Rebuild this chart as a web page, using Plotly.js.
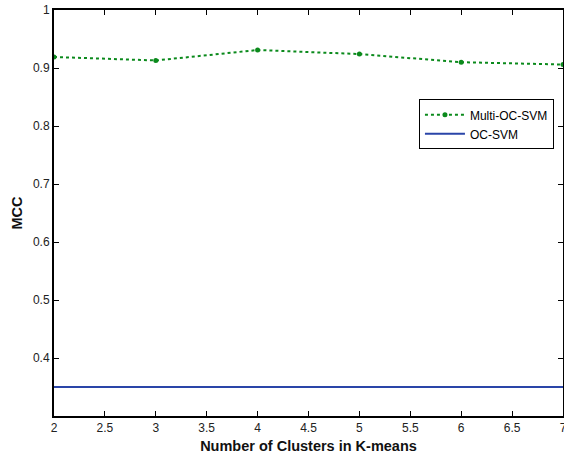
<!DOCTYPE html>
<html>
<head>
<meta charset="utf-8">
<script src="https://cdn.plot.ly/plotly-3.0.1.min.js"></script>
<style>html,body{margin:0;padding:0;background:#fff;}#chart{width:564px;height:455px;}</style>
</head>
<body>
<div id="chart"></div>
<script>
const clusters = [2, 3, 4, 5, 6, 7];
const multiOcSvm = [0.919, 0.913, 0.931, 0.924, 0.910, 0.906];
const ocSvmX = [2, 7];
const ocSvm = [0.35, 0.35];
const xTickVals = [2, 2.5, 3, 3.5, 4, 4.5, 5, 5.5, 6, 6.5, 7];
const xTickText = ['2', '2.5', '3', '3.5', '4', '4.5', '5', '5.5', '6', '6.5', '7'];
const yTickVals = [0.4, 0.5, 0.6, 0.7, 0.8, 0.9, 1.0];
const yTickText = ['0.4', '0.5', '0.6', '0.7', '0.8', '0.9', '1'];

const traces = [
  {x: clusters, y: multiOcSvm, name: 'Multi-OC-SVM', mode: 'lines+markers',
   line: {color: '#0b8a1c', width: 2, dash: 'dot'}, marker: {color: '#0b8a1c', size: 5}},
  {x: ocSvmX, y: ocSvm, name: 'OC-SVM', mode: 'lines',
   line: {color: '#2a45a8', width: 2}}
];

const axisCommon = {showline: true, linecolor: '#000', linewidth: 2, mirror: 'ticks',
  ticks: 'inside', ticklen: 5, tickcolor: '#000', tickwidth: 1, showgrid: false, zeroline: false,
  ticklabeloverflow: 'allow',
  tickfont: {family: 'Liberation Sans, Arial, sans-serif', size: 12, color: '#222'}};

const layout = {
  width: 564, height: 455,
  margin: {l: 54, r: 1, t: 10, b: 39},
  paper_bgcolor: '#fff', plot_bgcolor: '#fff',
  showlegend: true,
  legend: {x: 0.717, y: 0.78, xanchor: 'left', yanchor: 'top', bordercolor: '#000', borderwidth: 1,
    bgcolor: '#fff', font: {family: 'Liberation Sans, Arial, sans-serif', size: 12, color: '#000'},
    tracegroupgap: 0, itemwidth: 40},
  xaxis: Object.assign({}, axisCommon, {range: [2, 7], tickvals: xTickVals, ticktext: xTickText,
    title: {text: 'Number of Clusters in K-means', standoff: 6,
      font: {family: 'Liberation Sans, Arial, sans-serif', size: 14.5, color: '#111', weight: 'bold'}}}),
  yaxis: Object.assign({}, axisCommon, {range: [0.3, 1], tickvals: yTickVals, ticktext: yTickText,
    title: {text: 'MCC', standoff: 7,
      font: {family: 'Liberation Sans, Arial, sans-serif', size: 14.5, color: '#111', weight: 'bold'}}})
};

Plotly.newPlot('chart', traces, layout, {displayModeBar: false, staticPlot: true});
</script>
</body>
</html>
